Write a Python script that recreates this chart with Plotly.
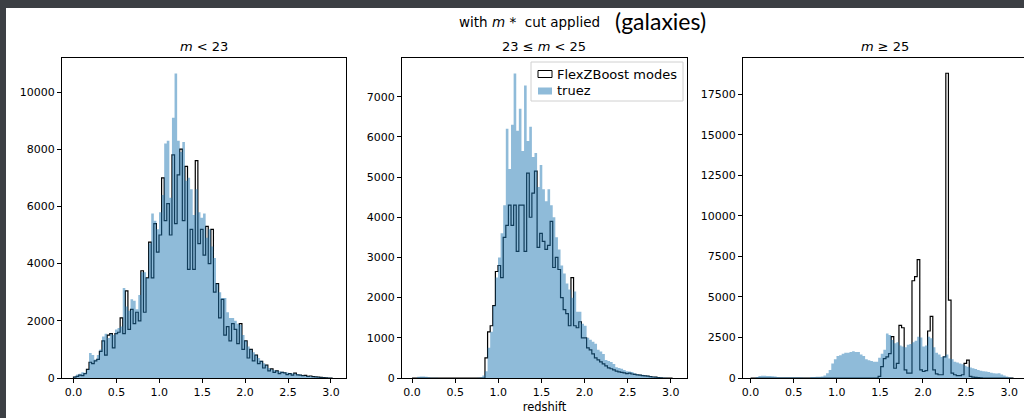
import plotly.graph_objects as go

# ---------------- data (histogram counts per bin) ----------------
bin_start = 0.0
bin_width = 0.0302

# panel 1: m < 23
p1_truez = [60, 120, 150, 200, 180, 300, 870, 800, 650, 800,
            1000, 1450, 1550, 1400, 1550, 1500, 1700, 1750, 1800, 3150,
            2500, 2350, 2750, 2700, 2400, 2900, 3700, 3700, 3500, 4700,
            5750, 5500, 5200, 5800, 6400, 8200, 8300, 6300, 9100, 10650,
            8300, 7900, 8250, 6900, 7000, 6600, 5700, 6600, 5800, 5600,
            5750, 4900, 5200, 4600, 4200, 3300, 3000, 2800, 2800, 2300,
            2100, 2100, 2000, 1900, 1850, 1500, 1300, 1100, 1000, 900,
            800, 700, 600, 520, 450, 350, 300, 280, 250, 240,
            220, 200, 190, 170, 170, 160, 140, 120, 100, 80,
            70, 60, 55, 50, 40, 30, 25, 20, 15, 10]
p1_flex = [30, 60, 100, 80, 150, 300, 550, 500, 600, 650,
           930, 1300, 800, 1500, 1550, 1050, 1550, 1600, 2100, 1550,
           3050, 1700, 2400, 1900, 2300, 2000, 3750, 2300, 3500, 4750,
           3500, 5400, 4400, 5000, 7000, 5500, 6100, 5000, 7800, 5400,
           7100, 8000, 5500, 7400, 3800, 5200, 3800, 7600, 4700, 5200,
           4300, 5300, 4000, 5200, 3000, 3300, 2100, 2750, 1500, 1800,
           1300, 1900, 1700, 1200, 1900, 1000, 1300, 700, 1000, 600,
           800, 500, 580, 350, 450, 250, 320, 200, 250, 150,
           200, 180, 120, 150, 100, 170, 110, 100, 80, 90,
           60, 70, 50, 40, 30, 20, 10, 5, 0, 0]

# panel 2: 23 <= m < 25
p2_truez = [0, 0, 30, 40, 40, 30, 20, 5, 5, 5,
            0, 0, 0, 0, 0, 0, 0, 0, 0, 0,
            0, 0, 0, 0, 0, 5, 20, 60, 170, 750,
            1150, 1800, 2500, 3000, 3600, 4300, 6200, 5200, 6300, 7580,
            6150, 6700, 5650, 7280, 5900, 6250, 5500, 5600, 4750, 5300,
            4700, 4400, 4700, 4300, 4000, 3500, 3200, 2800, 2600, 2350,
            2200, 2000, 2150, 1650, 1650, 1350, 1300, 1000, 950, 900,
            850, 700, 660, 600, 450, 420, 400, 350, 270, 250,
            230, 200, 170, 160, 150, 120, 100, 90, 80, 70,
            60, 50, 40, 30, 25, 20, 10, 5, 0, 0]
p2_flex = [0, 0, 0, 0, 0, 0, 0, 0, 0, 0,
           0, 0, 0, 0, 0, 0, 0, 0, 0, 0,
           0, 0, 0, 0, 0, 0, 0, 0, 500, 1150,
           1300, 1800, 2650, 2800, 2500, 3500, 3800, 4300, 3800, 4300,
           3150, 4300, 4300, 3150, 5100, 4000, 4600, 5150, 3250, 3600,
           3400, 3200, 3300, 3900, 2750, 3000, 2700, 2000, 1700, 1600,
           1300, 2500, 1300, 1250, 1400, 1000, 1000, 750, 700, 600,
           500, 450, 400, 350, 300, 250, 230, 200, 170, 150,
           140, 130, 110, 120, 100, 90, 80, 70, 60, 55,
           45, 35, 25, 20, 10, 5, 0, 0, 0, 0]

# panel 3: m >= 25
p3_truez = [0, 0, 60, 120, 140, 140, 130, 120, 110, 100,
            60, 40, 40, 40, 40, 40, 40, 40, 40, 30,
            20, 20, 20, 60, 60, 70, 70, 100, 150, 300,
            500, 900, 1150, 1350, 1400, 1500, 1550, 1550, 1600, 1650,
            1600, 1600, 1450, 1350, 1150, 1100, 1050, 1000, 1000, 1250,
            1500, 1750, 2750, 2650, 2350, 2150, 2200, 2000, 1950, 1900,
            2050, 2100, 2200, 2300, 2550, 2500, 1950, 2000, 2550, 2450,
            1900, 1550, 1450, 1300, 1350, 1450, 1200, 1150, 1000, 950,
            900, 850, 750, 700, 650, 600, 550, 500, 450, 420,
            400, 370, 330, 300, 280, 300, 220, 150, 100, 50, 20]
p3_flex = [0, 0, 0, 0, 0, 0, 0, 0, 0, 0,
           0, 0, 0, 0, 0, 0, 0, 0, 0, 0,
           0, 0, 0, 0, 0, 0, 0, 0, 0, 0,
           0, 0, 0, 0, 0, 0, 0, 0, 0, 0,
           0, 0, 0, 0, 0, 0, 0, 0, 0, 100,
           700, 1200, 1300, 1500, 2550, 600, 900, 3250, 3100, 500,
           300, 300, 6000, 6250, 7300, 500, 400, 450, 2900, 3800,
           500, 250, 200, 200, 1300, 18800, 4800, 300, 200, 150,
           150, 200, 900, 1100, 100, 60, 40, 30, 10, 0,
           0, 0, 0, 0, 0, 0, 0, 0, 0, 0, 0]

panel_titles = ["<i>m</i> < 23", "23 ≤ <i>m</i> < 25", "<i>m</i> ≥ 25"]
x_ticks = [0.0, 0.5, 1.0, 1.5, 2.0, 2.5, 3.0]
y_ticks = [
    [0, 2000, 4000, 6000, 8000, 10000],
    [0, 1000, 2000, 3000, 4000, 5000, 6000, 7000],
    [0, 2500, 5000, 7500, 10000, 12500, 15000, 17500],
]
legend_labels = ["FlexZBoost modes", "truez"]

# ---------------- layout helpers ----------------
W, H = 1024, 418


def px(x):
    return x / W


def py(y):
    return 1 - y / H


panel_px = [(62, 346), (402, 687), (743, 1024)]
top_px, bot_px = 58, 378
x_ranges = [[-0.134, 3.176], [-0.116, 3.187], [-0.088, 3.172]]
y_ranges = [[0, 11190], [0, 7963], [0, 19740]]

BLUE_FILL = "rgba(31,119,180,0.5)"
FONT = "DejaVu Sans"


def step_xy(values):
    n = len(values)
    edges = [bin_start + bin_width * i for i in range(n + 1)]
    xs = [edges[0]] + edges[:n] + [edges[n], edges[n]]
    ys = [0] + list(values) + [values[-1], 0]
    return xs, ys


def ax_id(i):
    return "" if i == 1 else str(i)


fig = go.Figure()
series = [(p1_flex, p1_truez), (p2_flex, p2_truez), (p3_flex, p3_truez)]

for k, (flex, truez) in enumerate(series):
    base = k + 1
    over = k + 4
    fx, fy = step_xy(flex)
    fig.add_trace(go.Scatter(x=fx, y=fy, mode="lines", line_shape="hv",
                             line=dict(color="black", width=1.2),
                             xaxis="x" + ax_id(base), yaxis="y" + ax_id(base),
                             showlegend=False, name=legend_labels[0]))
    tx, ty = step_xy(truez)
    fig.add_trace(go.Scatter(x=tx, y=ty, mode="lines", line_shape="hv",
                             line=dict(width=0, color=BLUE_FILL),
                             fill="tozeroy", fillcolor=BLUE_FILL,
                             xaxis="x" + ax_id(over), yaxis="y" + ax_id(over),
                             showlegend=False, name=legend_labels[1]))

axis_common = dict(showline=True, mirror=True, linecolor="black", linewidth=1,
                   ticks="outside", ticklen=4, tickwidth=1, tickcolor="black",
                   showgrid=False, zeroline=False, automargin=False,
                   tickfont=dict(family=FONT, size=11, color="black"))

layout = dict(width=W, height=H, margin=dict(l=0, r=0, t=0, b=0, pad=0),
              paper_bgcolor="#3c3f44", plot_bgcolor="white",
              showlegend=False, font=dict(family=FONT, color="black"))

for k in range(3):
    base = k + 1
    over = k + 4
    layout["xaxis" + ax_id(base)] = dict(
        axis_common, domain=[px(panel_px[k][0]), px(panel_px[k][1])],
        range=x_ranges[k], anchor="y" + ax_id(base),
        tickmode="array", tickvals=x_ticks,
        ticktext=[f"{v:.1f}" for v in x_ticks])
    layout["yaxis" + ax_id(base)] = dict(
        axis_common, domain=[py(bot_px), py(top_px)],
        range=y_ranges[k], anchor="x" + ax_id(base),
        tickmode="array", tickvals=y_ticks[k],
        ticktext=[str(v) for v in y_ticks[k]])
    layout["xaxis" + ax_id(over)] = dict(
        overlaying="x" + ax_id(base), range=x_ranges[k], visible=False,
        anchor="y" + ax_id(over), automargin=False)
    layout["yaxis" + ax_id(over)] = dict(
        overlaying="y" + ax_id(base), range=y_ranges[k], visible=False,
        anchor="x" + ax_id(over), automargin=False)

# third panel is cut by the right edge of the picture: no right spine
layout["yaxis3"]["mirror"] = False

layout["xaxis2"]["title"] = dict(text="redshift", standoff=4,
                                 font=dict(family=FONT, size=11.5, color="black"))

fig.update_layout(**layout)

# white figure sheet on dark slide background
fig.add_shape(type="rect", xref="paper", yref="paper", layer="below",
              x0=px(6), x1=1.02, y0=-0.02, y1=py(8),
              fillcolor="white", line=dict(width=0))

# titles
annotations = [
    dict(text="with <i>m</i> *  cut applied", x=px(529), y=py(22),
         font=dict(family=FONT, size=13.5, color="black")),
    dict(text="(galaxies)", x=px(660), y=py(21),
         font=dict(family="Lato", size=23, color="black")),
]
for k in range(3):
    cx = panel_px[k][0] + 142
    annotations.append(dict(text=panel_titles[k], x=px(cx), y=py(46),
                            font=dict(family=FONT, size=13, color="black")))

# legend drawn in panel 2
annotations.append(dict(text=legend_labels[0], x=px(555), y=py(74), xanchor="left",
                        font=dict(family=FONT, size=13, color="black")))
annotations.append(dict(text=legend_labels[1], x=px(555), y=py(91), xanchor="left",
                        font=dict(family=FONT, size=13, color="black")))
for a in annotations:
    a.setdefault("xanchor", "center")
    a.update(xref="paper", yref="paper", yanchor="middle", showarrow=False)
fig.update_layout(annotations=annotations)

fig.add_shape(type="rect", xref="paper", yref="paper",
              x0=px(531), x1=px(683), y0=py(101), y1=py(62),
              fillcolor="rgba(255,255,255,0.8)", line=dict(color="#d0d0d0", width=1))
fig.add_shape(type="rect", xref="paper", yref="paper",
              x0=px(538), x1=px(552), y0=py(77.5), y1=py(70.5),
              fillcolor="white", line=dict(color="black", width=1))
fig.add_shape(type="rect", xref="paper", yref="paper",
              x0=px(538), x1=px(552), y0=py(94.5), y1=py(87.5),
              fillcolor=BLUE_FILL, line=dict(width=0))

fig.write_html("out.html")
